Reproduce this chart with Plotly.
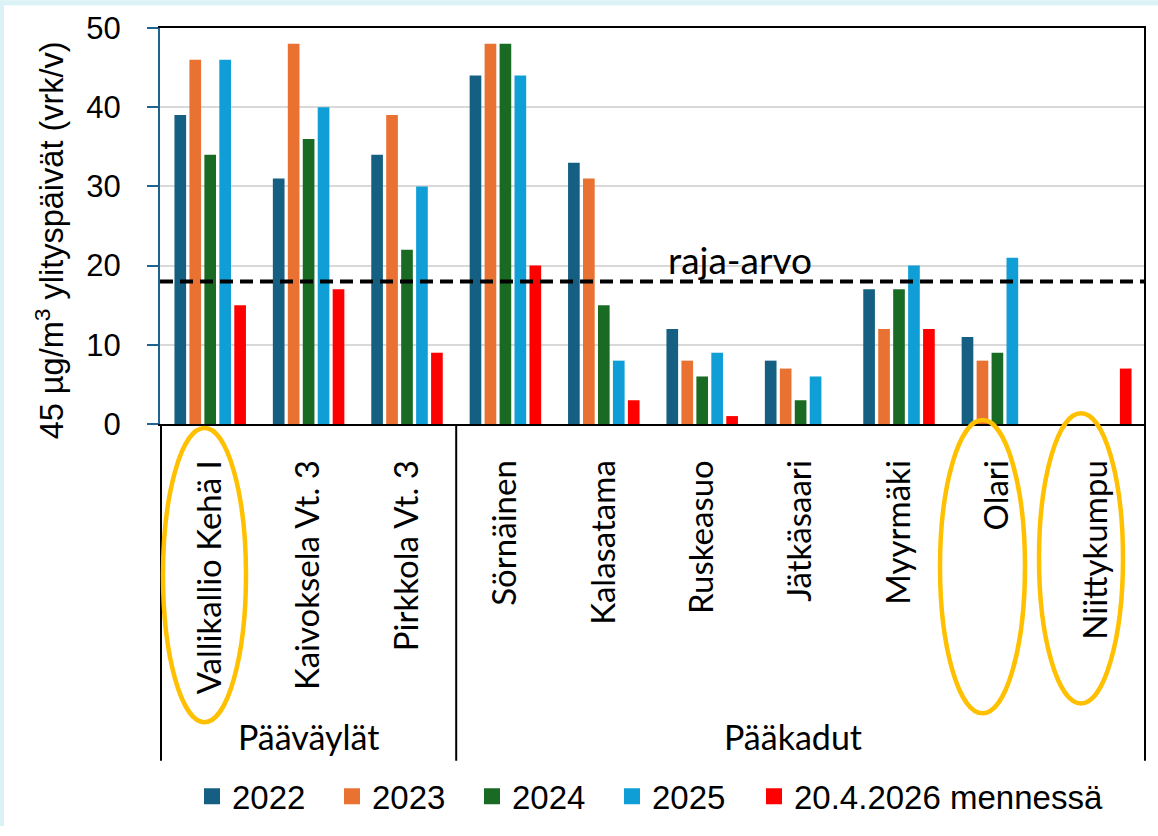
import plotly.graph_objects as go

# ---------------- data ----------------
stations = ["Vallikallio Kehä I", "Kaivoksela Vt. 3", "Pirkkola Vt. 3", "Sörnäinen",
            "Kalasatama", "Ruskeasuo", "Jätkäsaari", "Myyrmäki", "Olari", "Niittykumpu"]
series_names = ["2022", "2023", "2024", "2025", "20.4.2026 mennessä"]
v2022 = [39, 31, 34, 44, 33, 12, 8, 17, 11, None]
v2023 = [46, 48, 39, 48, 31, 8, 7, 12, 8, None]
v2024 = [34, 36, 22, 48, 15, 6, 3, 17, 9, None]
v2025 = [46, 40, 30, 44, 8, 9, 6, 20, 21, None]
v2026 = [15, 17, 9, 20, 3, 1, None, 12, None, 7]
limit_value = 18
limit_label = "raja-arvo"
group_labels = ["Pääväylät", "Pääkadut"]
y_title = "45 µg/m<sup>3</sup> ylityspäivät (vrk/v)"
y_ticks = [0, 10, 20, 30, 40, 50]

colors = ["#156082", "#E97132", "#196B24", "#0F9ED5", "#FF0000"]
all_values = [v2022, v2023, v2024, v2025, v2026]

W, H = 1158, 836
L, R, T, B = 160, 12, 28, 407
PW, PH = W - L - R, H - T - B


def px(xp):
    return (xp - L) / PW


def py(yp):
    return (H - B - yp) / PH


fig = go.Figure()
for name, vals, col in zip(series_names, all_values, colors):
    fig.add_trace(go.Bar(x=stations, y=vals, name=name, marker_color=col,
                         marker_line_width=0, showlegend=False))
# legend-only entries with bigger square swatches
for i, (name, col) in enumerate(zip(series_names, colors)):
    fig.add_trace(go.Scatter(x=[None], y=[None], mode="markers", name=name,
                             legend="legend" if i < 4 else "legend2",
                             marker=dict(symbol="square", size=20, color=col)))

shapes = []
# limit line
shapes.append(dict(type="line", xref="paper", yref="y", x0=0, x1=1,
                   y0=limit_value, y1=limit_value,
                   line=dict(color="black", width=4, dash="13px,7px")))
# category group separators
for xv, top in [(-0.5, 0), (2.5, 0), (9.5, 1)]:
    shapes.append(dict(type="line", xref="x", yref="paper", x0=xv, x1=xv,
                       y0=top, y1=py(770), line=dict(color="black", width=2)))
# highlight ellipses
for (x0, x1, y0, y1) in [(163, 246, 433, 731), (940, 1025, 425, 722), (1039, 1123, 418, 712)]:
    shapes.append(dict(type="circle", xref="paper", yref="paper",
                       x0=px(x0), x1=px(x1), y0=py(y1), y1=py(y0),
                       line=dict(color="#FFC000", width=4.5)))
# light cyan frame strips
shapes.append(dict(type="rect", xref="paper", yref="paper", x0=px(0), x1=px(W),
                   y0=py(5), y1=py(0), fillcolor="#DAF2F5", line_width=0))
shapes.append(dict(type="rect", xref="paper", yref="paper", x0=px(0), x1=px(4),
                   y0=py(H), y1=py(0), fillcolor="#DAF2F5", line_width=0))

annotations = [
    dict(text=limit_label, xref="paper", yref="y", x=px(740), y=limit_value,
         yanchor="middle", yshift=22, showarrow=False,
         font=dict(family="Lato", size=37, color="black")),
    dict(text=group_labels[0], xref="x", yref="paper", x=1, y=py(745),
         yanchor="middle", showarrow=False,
         font=dict(family="Lato", size=34, color="black")),
    dict(text=group_labels[1], xref="paper", yref="paper", x=px(793), y=py(745),
         yanchor="middle", showarrow=False,
         font=dict(family="Lato", size=34, color="black")),
    dict(text=y_title, xref="paper", yref="paper", x=px(50), y=py(243),
         xanchor="center", yanchor="middle", textangle=-90, showarrow=False,
         font=dict(family="Liberation Sans", size=32.5, color="black")),
]

legend_font = dict(family="Liberation Sans", size=33, color="black")
fig.update_layout(
    width=W, height=H,
    margin=dict(l=L, r=R, t=T, b=B, pad=0),
    paper_bgcolor="white", plot_bgcolor="white",
    barmode="group", bargap=0.24, bargroupgap=0.22,
    shapes=shapes, annotations=annotations,
    legend=dict(orientation="h", x=px(192), xanchor="left", y=py(806), yanchor="middle",
                font=legend_font, entrywidth=95, bgcolor="rgba(0,0,0,0)"),
    legend2=dict(orientation="h", x=px(754), xanchor="left", y=py(806), yanchor="middle",
                 font=legend_font, bgcolor="rgba(0,0,0,0)"),
    font=dict(family="Liberation Sans", color="black"),
)
fig.update_xaxes(
    showline=True, linecolor="black", linewidth=2, mirror=True,
    tickangle=-90, ticks="", ticklabelstandoff=21,
    tickfont=dict(family="Lato", size=33, color="black"),
    showgrid=False, fixedrange=True,
)
fig.update_yaxes(
    range=[0, 50], tickvals=y_ticks,
    showline=True, linecolor="#1F6391", linewidth=2,
    ticks="outside", ticklen=11, tickwidth=2, tickcolor="#1F6391",
    ticklabelstandoff=20,
    tickfont=dict(family="Liberation Sans", size=31, color="black"),
    showgrid=True, gridcolor="#D9D9D9", gridwidth=2, zeroline=False,
)

fig.write_html(
    "out.html",
    config={"displayModeBar": False},
    post_script=("document.documentElement.style.margin='0px';"
                 "document.body.style.margin='0px';"
                 "document.body.style.overflow='hidden';"
                 "document.documentElement.style.overflow='hidden';"),
)
